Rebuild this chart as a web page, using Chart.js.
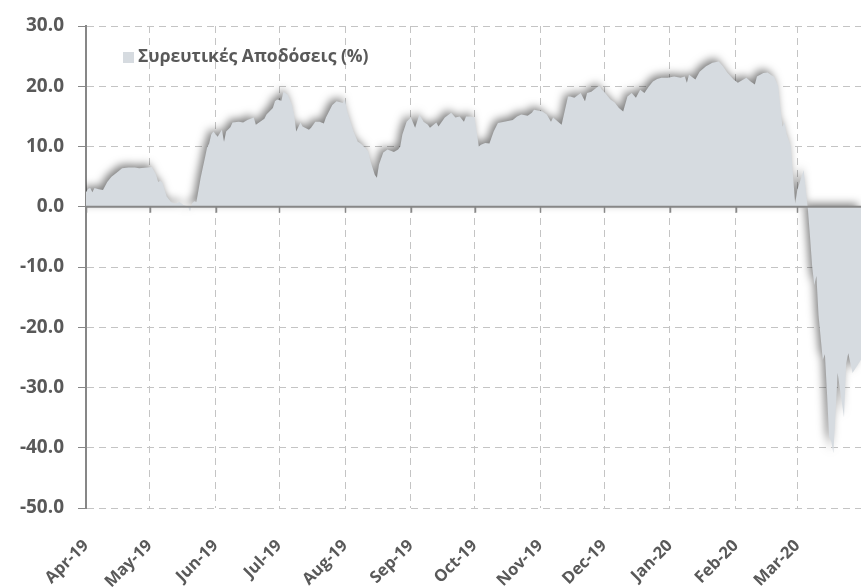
<!DOCTYPE html>
<html>
<head>
<meta charset="utf-8">
<script src="https://cdn.jsdelivr.net/npm/chart.js@4.4.1/dist/chart.umd.min.js"></script>
<style>
  html, body { margin: 0; padding: 0; background: #ffffff; }
  #wrap { width: 861px; height: 588px; }
</style>
</head>
<body>
<div id="wrap"><canvas id="returnsChart" width="861" height="588"></canvas></div>
<script>
// Συρευτικές αποδόσεις (%) - ημερήσιες τιμές, x = ημέρες από 1 Απρ 2019
const seriesLabel = 'Συρευτικές Αποδόσεις (%)';

const days = [
  0, 1, 2, 3, 4, 6, 8, 10, 12, 15,
  16, 17, 20, 23, 25, 29, 31, 33, 34, 35,
  36, 38, 40, 42, 44, 46, 48, 49, 50, 51,
  52, 54, 56, 57, 58, 59, 60, 62, 64, 65,
  66, 68, 69, 72, 74, 76, 79, 80, 82, 84,
  85, 88, 89, 90, 92, 93, 95, 97, 98, 99,
  101, 102, 105, 106, 108, 110, 112, 113, 116, 118,
  121, 122, 123, 126, 128, 129, 130, 132, 133, 134,
  136, 137, 138, 140, 142, 145, 147, 148, 149, 151,
  153, 155, 157, 159, 161, 162, 165, 166, 169, 172,
  174, 176, 178, 179, 181, 183, 185, 186, 188, 190,
  192, 194, 197, 201, 203, 205, 208, 210, 211, 215,
  217, 219, 220, 223, 224, 227, 228, 230, 233, 235,
  236, 238, 241, 242, 243, 244, 247, 249, 251, 253,
  255, 257, 259, 261, 263, 265, 267, 269, 271, 274,
  277, 280, 282, 283, 284, 287, 289, 292, 295, 298,
  300, 302, 305, 307, 308, 311, 313, 315, 316, 319,
  321, 323, 324, 326, 327, 328, 329, 330, 332, 333,
  334, 335, 337, 338, 339, 340, 341, 342, 343, 344,
  345, 347, 348, 349, 350, 351, 352, 354, 357, 358,
  359, 361, 363, 365
];

const returns = [
  2.4, 3.0, 3.1, 2.4, 3.1, 2.9, 2.8, 4.1, 5.0, 5.8,
  6.1, 6.4, 6.5, 6.5, 6.4, 6.5, 6.6, 5.3, 4.1, 4.3,
  4.0, 1.7, 0.8, 0.5, 0.8, 0.3, 0.1, -0.8, 0.6, 0.9,
  0.8, 4.8, 8.1, 9.8, 10.5, 12.0, 12.5, 11.6, 12.8, 10.8,
  12.5, 13.2, 14.0, 14.1, 14.0, 14.4, 14.8, 13.6, 14.1, 14.6,
  15.3, 16.4, 17.5, 17.8, 17.6, 19.1, 18.6, 16.9, 15.3, 12.5,
  14.0, 13.3, 12.8, 13.1, 14.1, 14.1, 13.8, 14.8, 16.9, 17.5,
  17.2, 17.8, 15.8, 12.5, 10.8, 10.6, 10.3, 9.6, 9.1, 7.5,
  5.3, 4.8, 7.0, 9.0, 9.5, 9.1, 9.5, 10.0, 12.0, 14.1,
  14.8, 13.1, 15.3, 14.1, 13.6, 13.1, 14.0, 13.3, 14.8, 15.6,
  14.8, 15.0, 14.1, 15.0, 15.0, 14.8, 10.0, 10.3, 10.6, 10.5,
  12.5, 13.9, 14.1, 14.4, 15.0, 15.3, 15.1, 15.6, 16.1, 15.8,
  15.3, 14.1, 14.8, 13.9, 13.6, 18.3, 18.3, 18.1, 18.9, 17.5,
  18.9, 19.1, 19.9, 20.0, 19.4, 19.1, 17.8, 17.3, 16.4, 15.8,
  18.3, 18.9, 18.1, 19.4, 18.9, 19.9, 20.8, 21.2, 21.4, 21.4,
  21.6, 21.4, 21.6, 20.6, 21.9, 21.1, 22.4, 23.3, 23.9, 24.1,
  23.3, 22.3, 21.1, 20.6, 20.8, 21.4, 20.8, 20.3, 21.6, 22.2,
  22.3, 21.8, 21.6, 20.0, 16.5, 13.3, 14.0, 12.0, 10.0, 5.0,
  0.5, 2.8, 5.0, 6.1, 2.8, -0.5, -5.0, -9.9, -13.0, -11.5,
  -18.0, -25.4, -24.5, -31.0, -38.2, -39.0, -40.9, -27.6, -35.0, -26.0,
  -24.3, -27.6, -26.5, -25.4
];

// αρχή κάθε μήνα (ημέρες από 1 Απρ 2019) και ετικέτες
const monthStarts = [0, 30, 61, 91, 122, 153, 183, 214, 244, 275, 306, 335];
const monthLabels = ['Apr-19', 'May-19', 'Jun-19', 'Jul-19', 'Aug-19', 'Sep-19',
                     'Oct-19', 'Nov-19', 'Dec-19', 'Jan-20', 'Feb-20', 'Mar-20'];

const fillColor = '#D6DBE0';
const textColor = '#595959';
const axisColor = '#878787';
const gridColor = '#C4C4C4';

// σκιά της περιοχής (όπως στο Excel)
const shadowPlugin = {
  id: 'areaShadow',
  beforeDatasetsDraw(chart) {
    const ctx = chart.ctx;
    ctx.save();
    ctx.shadowColor = 'rgba(0, 0, 0, 0.5)';
    ctx.shadowBlur = 8;
    ctx.shadowOffsetX = -3;
    ctx.shadowOffsetY = -3;
  },
  afterDatasetsDraw(chart) {
    chart.ctx.restore();
  }
};

// άξονας κατηγοριών στο μηδέν, με τα σημάδια των μηνών
const zeroAxisPlugin = {
  id: 'zeroAxis',
  afterDatasetsDraw(chart) {
    const { ctx, chartArea, scales } = chart;
    const y0 = scales.y.getPixelForValue(0);
    ctx.save();
    ctx.strokeStyle = axisColor;
    ctx.lineWidth = 2;
    ctx.beginPath();
    ctx.moveTo(chartArea.left, y0);
    ctx.lineTo(chartArea.right, y0);
    ctx.stroke();
    ctx.lineWidth = 1.5;
    monthStarts.forEach(d => {
      const x = Math.round(scales.x.getPixelForValue(d)) + 0.5;
      ctx.beginPath();
      ctx.moveTo(x, y0);
      ctx.lineTo(x, y0 + 6);
      ctx.stroke();
    });
    ctx.restore();
  }
};

// υπόμνημα μέσα στην περιοχή σχεδίασης
const innerLegendPlugin = {
  id: 'innerLegend',
  afterDraw(chart) {
    const { ctx, chartArea } = chart;
    const x = chartArea.left + 37;
    const y = chartArea.top + 31;
    ctx.save();
    ctx.fillStyle = fillColor;
    ctx.fillRect(x, y - 5, 11, 11);
    ctx.fillStyle = textColor;
    ctx.font = 'bold 17.5px "Open Sans"';
    ctx.textBaseline = 'middle';
    ctx.fillText(chart.data.datasets[0].label, x + 15, y);
    ctx.restore();
  }
};

const ctx = document.getElementById('returnsChart').getContext('2d');
new Chart(ctx, {
  type: 'line',
  data: {
    datasets: [{
      label: seriesLabel,
      data: days.map((d, i) => ({ x: d, y: returns[i] })),
      fill: 'origin',
      backgroundColor: fillColor,
      borderColor: 'rgba(0,0,0,0)',
      borderWidth: 0,
      pointRadius: 0,
      tension: 0
    }]
  },
  options: {
    responsive: false,
    animation: false,
    layout: { padding: { top: 26, right: 0, left: 0, bottom: 0 } },
    plugins: {
      legend: { display: false },
      tooltip: { enabled: false }
    },
    scales: {
      x: {
        type: 'linear',
        min: 0,
        max: 365,
        afterBuildTicks: axis => {
          axis.ticks = monthStarts.map(v => ({ value: v }));
        },
        afterFit: axis => { axis.height = 80; },
        border: { display: false, dash: [7, 5] },
        grid: { color: gridColor, lineWidth: 1, drawTicks: false },
        ticks: {
          autoSkip: false,
          maxRotation: 45,
          minRotation: 45,
          padding: 28,
          color: textColor,
          font: { family: 'Open Sans', size: 16.5, weight: 'bold' },
          callback: value => monthLabels[monthStarts.indexOf(value)]
        }
      },
      y: {
        min: -50,
        max: 30,
        afterFit: axis => { axis.width = 86; },
        border: { display: true, color: axisColor, width: 2, dash: [7, 5] },
        grid: { color: gridColor, lineWidth: 1, tickColor: axisColor, tickLength: 8, tickBorderDash: [] },
        ticks: {
          stepSize: 10,
          padding: 14,
          color: textColor,
          font: { family: 'Open Sans', size: 19, weight: 'bold' },
          callback: value => value.toFixed(1)
        }
      }
    }
  },
  plugins: [shadowPlugin, zeroAxisPlugin, innerLegendPlugin]
});
</script>
</body>
</html>
